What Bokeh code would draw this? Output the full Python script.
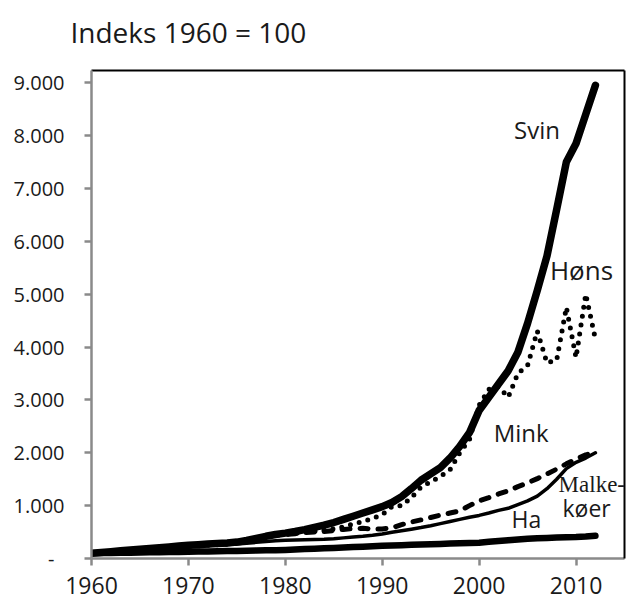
from bokeh.plotting import figure
from bokeh.models import Label, FixedTicker, LinearAxis, Range1d, Title
from bokeh.embed import file_html
from bokeh.resources import INLINE

years = list(range(1960, 2013))

svin = [100, 115, 130, 145, 160, 175, 190, 205, 220, 235,
        250, 262, 275, 285, 295, 310, 340, 380, 420, 455,
        480, 510, 545, 590, 630, 680, 740, 800, 860, 920,
        980, 1060, 1170, 1320, 1480, 1600, 1720, 1900, 2120, 2380,
        2800, 3050, 3300, 3550, 3900, 4450, 5070, 5720, 6600, 7500,
        7850, 8400, 8950]

hoens = [100, 110, 120, 130, 140, 155, 170, 185, 200, 215,
         230, 240, 250, 260, 270, 285, 330, 370, 410, 440,
         460, 480, 500, 520, 540, 560, 600, 650, 700, 760,
         830, 980, 1000, 1150, 1350, 1450, 1550, 1680, 2000, 2250,
         2900, 3200, 3250, 3050, 3500, 3650, 4300, 3700, 3750, 4750,
         3800, 5000, 4150]

mink = [100, 110, 120, 135, 150, 165, 180, 195, 210, 225,
        240, 255, 265, 275, 285, 300, 340, 390, 420, 440,
        450, 470, 490, 500, 510, 530, 550, 565, 570, 560,
        560, 580, 640, 690, 730, 775, 820, 860, 900, 1000,
        1090, 1150, 1220, 1280, 1360, 1430, 1510, 1600, 1690, 1790,
        1880, 1960, 2010]

malkekoer = [100, 110, 120, 130, 140, 150, 165, 180, 195, 210,
             225, 235, 245, 255, 265, 275, 290, 305, 320, 335,
             345, 350, 355, 360, 365, 375, 390, 405, 420, 440,
             465, 495, 525, 555, 585, 620, 660, 700, 740, 780,
             815, 860, 910, 950, 1020, 1090, 1180, 1320, 1500, 1700,
             1820, 1900, 2000]

ha = [100, 102, 105, 108, 110, 113, 116, 119, 122, 125,
      128, 131, 134, 137, 140, 143, 147, 151, 155, 158,
      162, 170, 178, 186, 194, 200, 208, 216, 224, 232,
      240, 246, 252, 258, 264, 270, 276, 282, 288, 294,
      300, 315, 330, 345, 360, 375, 385, 390, 395, 400,
      405, 415, 430]

x_ticks = [1960, 1970, 1980, 1990, 2000, 2010]
y_ticks = [0, 1000, 2000, 3000, 4000, 5000, 6000, 7000, 8000, 9000]
y_tick_labels = ["-\u2002", "1.000", "2.000", "3.000", "4.000", "5.000",
                 "6.000", "7.000", "8.000", "9.000"]

title_text = "Indeks 1960 = 100"
series_labels = ["Svin", "Høns", "Mink", "Malke-", "køer", "Ha"]

FONT = "Open Sans"
GREY = "#8a8a8a"

p = figure(width=634, height=600, x_range=Range1d(1960, 2015), y_range=Range1d(0, 9230),
           output_backend="svg", toolbar_location=None,
           min_border_left=91, min_border_right=10, min_border_top=70, min_border_bottom=42)
p.grid.visible = False
p.outline_line_color = None
p.title.text = ""

for ax in (p.xaxis[0], p.yaxis[0]):
    ax.axis_line_color = GREY
    ax.axis_line_width = 2.5
    ax.major_tick_line_color = GREY
    ax.major_tick_line_width = 2.5
    ax.major_tick_out = 7
    ax.major_tick_in = 0
    ax.minor_tick_line_color = None
    ax.major_label_text_font = FONT
    ax.major_label_text_color = "#1a1a1a"

p.xaxis.ticker = FixedTicker(ticks=x_ticks)
p.xaxis.major_label_text_font_size = "23px"
p.xaxis.major_label_standoff = 11

p.yaxis.ticker = FixedTicker(ticks=y_ticks)
p.yaxis.major_label_overrides = {t: l for t, l in zip(y_ticks, y_tick_labels)}
p.yaxis.major_label_text_font_size = "20px"
p.yaxis.major_label_standoff = 20

top_border = LinearAxis(ticker=FixedTicker(ticks=[]), axis_line_color="black", axis_line_width=2,
                        major_tick_out=0, major_tick_in=0, minor_tick_out=0, minor_tick_in=0,
                        major_label_standoff=0, major_label_text_font_size="0px",
                        axis_label=" ", axis_label_standoff=0, axis_label_text_font_size="12px",
                        axis_label_text_font=FONT)
p.add_layout(top_border, "above")

right_border = LinearAxis(ticker=FixedTicker(ticks=[]), axis_line_color="black", axis_line_width=2,
                          major_tick_out=0, major_tick_in=0, minor_tick_out=0, minor_tick_in=0,
                          major_label_standoff=0, major_label_text_font_size="0px")
p.add_layout(right_border, "right")

top_title = Title(text=title_text, text_font=FONT, text_font_size="28px", text_font_style="normal",
                  text_color="#1a1a1a", align="left", vertical_align="bottom", offset=-21, standoff=0)
p.add_layout(top_title, "above")

p.line(years, ha, line_width=6.5, color="black", line_cap="round", line_join="round")
p.line(years, malkekoer, line_width=3.5, color="black", line_cap="round", line_join="round")
p.line(years, mink, line_width=5, color="black", line_dash="8 10", line_cap="round", line_join="round")
p.line(years, hoens, line_width=5, color="black", line_dash="0 9", line_cap="round", line_join="round")
p.line(years, svin, line_width=7.5, color="black", line_cap="round", line_join="round")

label_specs = [
    (series_labels[0], 2003.6, 8120, "24px", FONT),
    (series_labels[1], 2007.3, 5450, "26px", FONT),
    (series_labels[2], 2001.5, 2380, "24px", FONT),
    (series_labels[3], 2008.2, 1400, "23px", "Liberation Serif"),
    (series_labels[4], 2008.6, 960, "23px", FONT),
    (series_labels[5], 2003.35, 755, "23px", FONT),
]
for txt, lx, ly, fs, fnt in label_specs:
    p.add_layout(Label(x=lx, y=ly, text=txt, text_font=fnt, text_font_size=fs,
                       text_color="#1a1a1a", text_baseline="alphabetic"))

open("out.html", "w").write(file_html(p, INLINE))
